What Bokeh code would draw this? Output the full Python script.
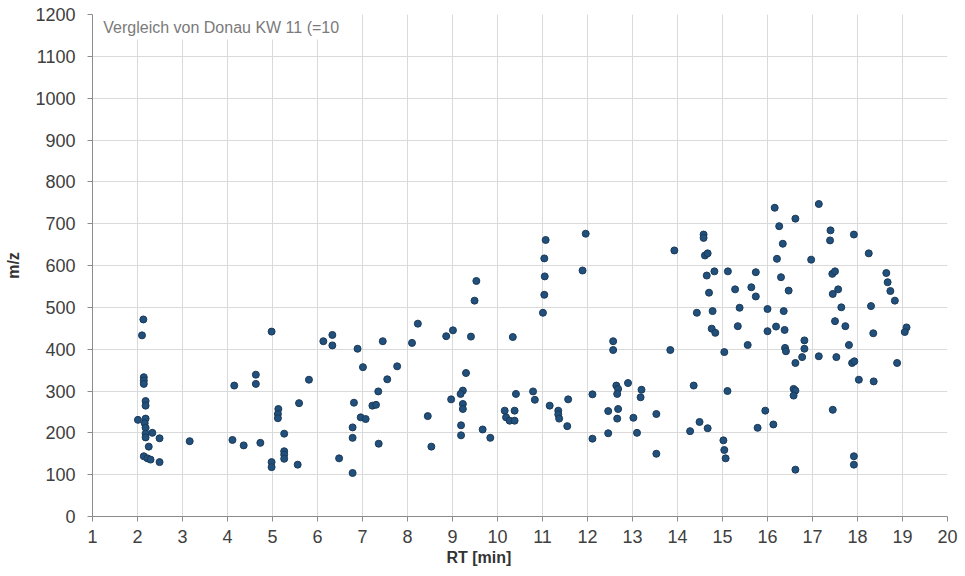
from bokeh.plotting import figure
from bokeh.models import ColumnDataSource, Range1d, FixedTicker, Label, BoxAnnotation, Title
from bokeh.embed import file_html
from bokeh.resources import INLINE

# Retention time [min]
rt = [2.13, 2.10, 2.14, 2.14, 2.14, 2.18, 2.18, 2.01, 2.18, 2.16, 2.18, 2.33, 2.18, 2.18, 2.49, 2.25, 2.14, 2.22, 2.29, 2.49, 3.16,
      4.11, 4.15, 4.36, 4.63, 4.63, 4.73, 4.98, 4.98, 4.98, 5.13, 5.12, 5.12, 5.26, 5.26, 5.26, 5.26, 5.56, 5.59, 5.81,
      6.13, 6.33, 6.33, 6.48, 6.78, 6.78, 6.78, 6.81, 6.89, 7.01, 6.96, 7.07, 7.22, 7.30, 7.35, 7.36,
      7.45, 7.55, 7.77, 8.10, 8.23, 8.45, 8.53,
      8.86, 9.01, 9.41, 9.53, 9.49, 9.30, 9.23, 9.18, 8.97, 9.23, 9.23, 9.19, 9.19, 9.67, 9.84,
      10.16, 10.19, 10.27, 10.38, 10.41, 10.38, 10.34,
      10.79, 10.83, 11.07, 11.04, 11.05, 11.04, 11.01, 11.16, 11.35, 11.35, 11.37, 11.55, 11.57, 11.96, 11.89,
      12.11, 12.11, 12.46, 12.46, 12.57, 12.57, 12.64, 12.68, 12.66, 12.68, 12.66, 12.90, 13.02, 13.10, 13.20, 13.18, 13.53, 13.53,
      13.84, 13.93, 14.28, 14.36, 14.43, 14.49, 14.58, 14.58, 14.61, 14.67, 14.65, 14.67, 14.70, 14.76, 14.78, 14.82, 14.84,
      15.02, 15.04, 15.07, 15.04, 15.11, 15.12, 15.28, 15.34, 15.38, 15.56, 15.64, 15.74, 15.74, 15.78, 15.95,
      16.00, 16.00, 16.13, 16.16, 16.19, 16.21, 16.26, 16.30, 16.34, 16.36, 16.38, 16.39, 16.41, 16.47, 16.58, 16.62, 16.58,
      16.62, 16.62, 16.62,
      16.77, 16.82, 16.82, 16.97, 17.14, 17.14, 17.40, 17.39, 17.44, 17.50, 17.45, 17.57, 17.50, 17.45, 17.53, 17.64, 17.73,
      17.81, 17.88, 17.93, 17.92, 17.92, 17.92, 18.03, 18.25, 18.30, 18.35, 18.36, 18.64, 18.67, 18.73, 18.83, 18.88, 19.09, 19.05]

# m/z
mz = [471, 433, 333, 325, 317, 276, 265, 231, 234, 223, 212, 200, 198, 189, 187, 167, 144, 139, 136, 130, 180,
      183, 313, 170, 339, 317, 176, 442, 130, 118, 257, 245, 235, 198, 156, 148, 138, 124, 271, 327,
      419, 434, 409, 139, 104, 213, 188, 272, 401, 357, 237, 233, 265, 267, 299, 174,
      419, 328, 359, 415, 461, 240, 167,
      431, 445, 430, 563, 516, 343, 301, 293, 280, 269, 257, 218, 194, 208, 188,
      253, 237, 229, 229, 293, 253, 429,
      299, 279, 661, 617, 574, 530, 487, 265, 253, 244, 234, 216, 280, 676, 588,
      292, 186, 252, 199, 419, 398, 313, 305, 293, 257, 234, 319, 236, 200, 303, 285, 245, 150,
      398, 636, 204, 313, 487, 226, 674, 666, 624, 629, 576, 211, 535, 449, 491, 586, 439,
      182, 159, 139, 393, 300, 586, 543, 455, 499, 410, 548, 584, 526, 212, 253,
      496, 443, 220, 738, 454, 616, 694, 572, 652, 491, 446, 403, 395, 540, 305, 301, 289,
      367, 712, 112,
      381, 421, 401, 614, 747, 383, 684, 660, 580, 586, 532, 543, 467, 255, 381, 500, 455,
      410, 367, 371, 674, 144, 124, 327, 629, 503, 438, 323, 582, 560, 539, 516, 367, 452, 441]

x_ticks = list(range(1, 21))
y_ticks = list(range(0, 1201, 100))
x_title = "RT [min]"
y_title = "m/z"
box_text = "Vergleich von Donau KW 11 (=10"

src = ColumnDataSource(dict(rt=rt, mz=mz))

p = figure(width=965, height=576, output_backend="svg", toolbar_location=None,
           x_range=Range1d(1, 20), y_range=Range1d(0, 1200),
           min_border_left=92, min_border_right=18, min_border_top=14, min_border_bottom=60)
p.outline_line_color = None
p.background_fill_color = "white"

for ax in (p.xaxis[0], p.yaxis[0]):
    ax.axis_line_color = "#8c8c8c"
    ax.major_tick_line_color = "#8c8c8c"
    ax.minor_tick_line_color = None
    ax.major_tick_out = 5
    ax.major_tick_in = 0
    ax.major_label_text_font = "Liberation Sans"
    ax.major_label_text_font_size = "18px"
    ax.major_label_text_color = "#404040"
    ax.axis_label_text_font = "Liberation Sans"
    ax.axis_label_text_font_size = "16px"
    ax.axis_label_text_font_style = "bold"
    ax.axis_label_text_color = "#333333"

p.xaxis.ticker = FixedTicker(ticks=x_ticks)
p.yaxis.ticker = FixedTicker(ticks=y_ticks)
p.xaxis.major_label_standoff = 8
p.yaxis.major_label_standoff = 12
p.yaxis.axis_label = y_title
p.yaxis.axis_label_standoff = 10

p.xgrid.ticker = FixedTicker(ticks=x_ticks)
p.ygrid.ticker = FixedTicker(ticks=y_ticks)
p.grid.grid_line_color = "#dadada"
p.grid.grid_line_width = 1

p.scatter("rt", "mz", source=src, size=7, fill_color="#21507c", line_color="#1b3a58", line_width=1)

box = BoxAnnotation(left=1.04, right=6.65, bottom=1140, top=1200, fill_color="white", fill_alpha=1.0,
                    line_color=None)
p.add_layout(box)
p.add_layout(Label(x=1.24, y=1168, text=box_text, text_font="Liberation Sans", text_font_size="16px",
                   text_color="#7a7a7a", text_baseline="middle"))

t = Title(text=x_title, align="left", offset=354, text_font="Liberation Sans", text_font_size="16px",
          text_font_style="bold", text_color="#333333", standoff=2)
p.add_layout(t, "below")

open("out.html", "w").write(file_html(p, INLINE))
